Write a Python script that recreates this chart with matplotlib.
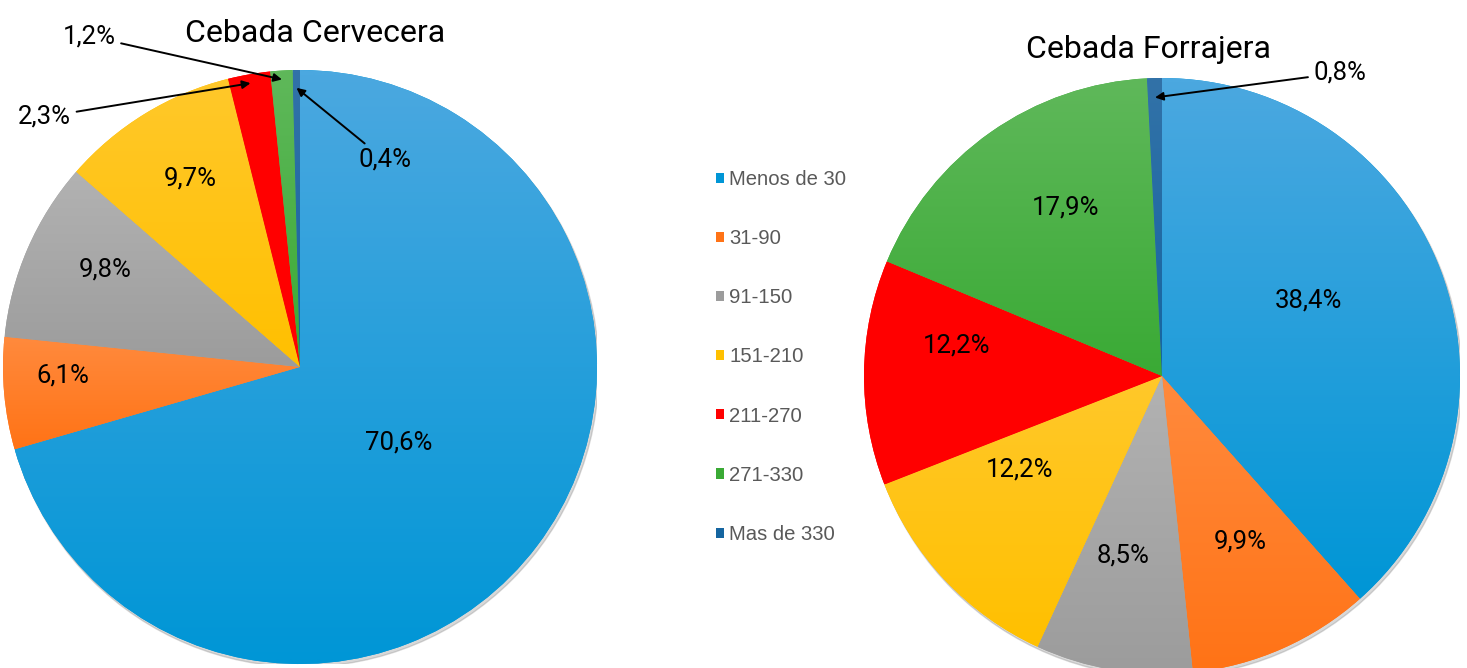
import numpy as np
import matplotlib.pyplot as plt
from matplotlib.colors import to_rgb
from matplotlib.patches import Circle

categories = ['Menos de 30', '31-90', '91-150', '151-210', '211-270', '271-330', 'Mas de 330']
cervecera = [70.6, 6.1, 9.8, 9.7, 2.3, 1.2, 0.4]
forrajera = [38.4, 9.9, 8.5, 12.2, 12.2, 17.9, 0.8]

colors = ['#0096d6', '#ff7316', '#9c9c9c', '#ffc000', '#ff0000', '#3aaa35', '#1565a0']
top_colors = ['#4ba8e0', '#ff8a3d', '#b2b2b2', '#ffc82a', '#ff0000', '#5fb85a', '#3272a8']

# where the inside labels sit (axes data units, pie radius = 1); None = outside label
cerv_pos = [(0.333, -0.253), (-0.798, -0.030), (-0.657, 0.327), (-0.370, 0.636), None, None, None]
forr_pos = [(0.490, 0.255), (0.262, -0.554), (-0.131, -0.601), (-0.477, -0.315),
            (-0.688, 0.104), (-0.322, 0.567), None]

plt.rcParams['font.family'] = ['Roboto', 'DejaVu Sans']

W, H = 1467, 668
fig = plt.figure(figsize=(W / 100, H / 100), dpi=100)


def fmt(v):
    return '{:.1f}%'.format(v).replace('.', ',')


def draw_pie(box, values, positions):
    ax = fig.add_axes(box)
    shadow = Circle((0.006, -0.010), 1.0, color='#808080', alpha=0.3, zorder=0)
    ax.add_patch(shadow)
    wedges, _ = ax.pie(values, colors=colors, startangle=90, counterclock=False,
                       radius=1, wedgeprops=dict(linewidth=0))
    # vertical gradient in each slice, lighter at top
    for w, c0, c1 in zip(wedges, top_colors, colors):
        ext = w.get_path().get_extents()
        a, b = np.array(to_rgb(c0)), np.array(to_rgb(c1))
        t = np.linspace(0, 1, 64)[:, None]
        grad = (a * (1 - t) + b * t)[:, None, :]
        im = ax.imshow(grad, extent=(ext.x0, ext.x1, ext.y0, ext.y1), origin='upper',
                       interpolation='bilinear', aspect='auto', zorder=2)
        im.set_clip_path(w)
    for v, p in zip(values, positions):
        if p is None:
            continue
        ax.text(p[0], p[1], fmt(v), ha='center', va='center', fontsize=18.5, zorder=5)
    ax.set_xlim(-1, 1)
    ax.set_ylim(-1, 1)
    ax.set_aspect('equal')
    ax.axis('off')
    return ax, wedges


def mid_point(values, idx, r):
    total = sum(values)
    before = sum(values[:idx])
    ang = np.radians(90 - 360 * (before + values[idx] / 2) / total)
    return r * np.cos(ang), r * np.sin(ang)


ax1, wedges = draw_pie([3 / W, 4 / H, 594 / W, 594 / H], cervecera, cerv_pos)
ax2, _ = draw_pie([864 / W, -6 / H, 596 / W, 596 / H], forrajera, forr_pos)

arrow = dict(arrowstyle='-|>', color='black', lw=1.4, mutation_scale=12, shrinkA=2, shrinkB=0)
ax1.annotate(fmt(cervecera[5]), xy=mid_point(cervecera, 5, 0.97), xytext=(-0.71, 1.114),
             ha='center', va='center', fontsize=18.5, arrowprops=arrow, annotation_clip=False)
ax1.annotate(fmt(cervecera[4]), xy=mid_point(cervecera, 4, 0.97), xytext=(-0.86, 0.842),
             ha='center', va='center', fontsize=18.5, arrowprops=arrow, annotation_clip=False)
ax1.annotate(fmt(cervecera[6]), xy=mid_point(cervecera, 6, 0.94), xytext=(0.286, 0.697),
             ha='center', va='center', fontsize=18.5, arrowprops=arrow, annotation_clip=False)
ax2.annotate(fmt(forrajera[6]), xy=mid_point(forrajera, 6, 0.935), xytext=(0.597, 1.017),
             ha='center', va='center', fontsize=18.5, arrowprops=arrow, annotation_clip=False)

fig.text(315 / W, 1 - 33 / H, 'Cebada Cervecera', ha='center', va='center', fontsize=23)
fig.text(1148 / W, 1 - 50 / H, 'Cebada Forrajera', ha='center', va='center', fontsize=23)

fig.legend(wedges, categories, loc='upper left', bbox_to_anchor=(716 / W, 1 - 170 / H),
           frameon=False, handlelength=0.4, handleheight=0.4, handletextpad=0.25,
           labelspacing=1.98, borderpad=0, borderaxespad=0,
           prop=dict(family='Liberation Sans', size=14.6), labelcolor='#595959')

fig.savefig('out.png', dpi=100)
